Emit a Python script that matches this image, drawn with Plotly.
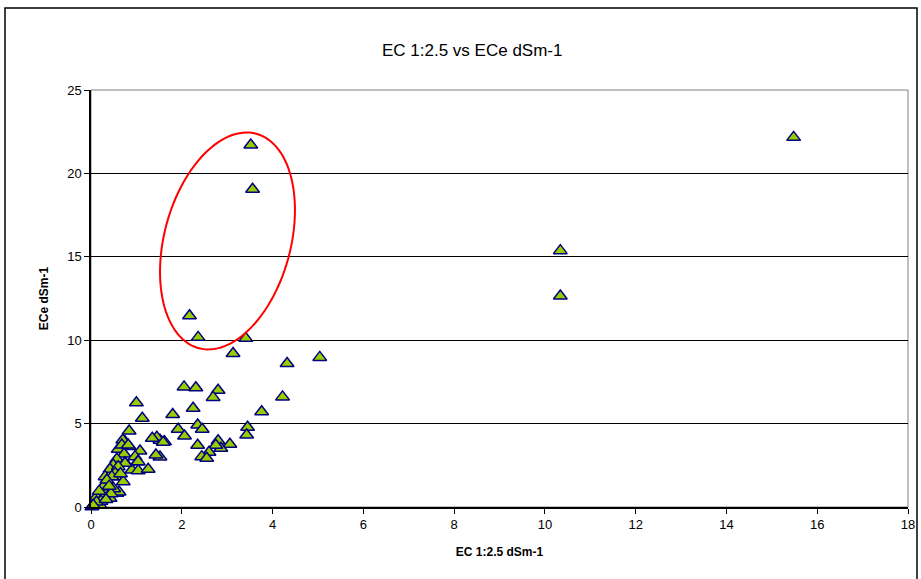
import numpy as np
import plotly.graph_objects as go

# EC 1:2.5 (dS/m) values
ec_125 = [
    15.48, 10.34, 10.34, 3.52, 3.56, 2.17, 2.36, 3.41, 5.04, 4.32, 3.13,
    4.22, 3.76, 2.05, 2.31, 2.80, 2.69, 2.25, 1.80, 2.35, 2.45, 1.92, 2.06,
    3.45, 3.43, 1.62, 1.52, 2.35, 2.80, 3.06, 2.86, 2.75, 2.60, 2.44, 2.55,
    1.52, 1.00, 1.13, 0.84, 1.45, 1.35, 1.59, 0.75, 0.70, 0.84, 0.60, 1.08,
    1.43, 0.73, 0.97, 0.57, 1.03, 0.75, 0.49, 0.90, 1.04, 1.26, 0.42, 0.53,
    0.71, 0.31, 0.35, 0.68, 0.82, 1.04, 0.75, 0.60, 0.53, 0.46, 0.38, 0.57,
    0.31, 0.24, 0.42, 0.16, 0.09, 0.02, 0.20, 0.125, 0.27, 0.35, 0.62, 0.50,
    0.44, 0.28, 0.22, 0.18, 0.12, 0.05, 0.65, 0.40, 0.33,
]
# ECe (dS/m) values
ece = [
    22.16, 15.37, 12.65, 21.70, 19.05, 11.47, 10.17, 10.11, 8.97, 8.60, 9.20,
    6.60, 5.71, 7.20, 7.15, 7.00, 6.57, 5.92, 5.55, 4.92, 4.66, 4.66, 4.26,
    4.78, 4.32, 3.92, 4.00, 3.70, 3.97, 3.76, 3.52, 3.70, 3.28, 3.02, 2.92,
    3.00, 6.25, 5.32, 4.56, 4.18, 4.12, 3.88, 3.92, 4.02, 3.62, 3.46, 3.36,
    3.12, 3.18, 3.02, 2.88, 2.72, 2.66, 2.52, 2.22, 2.18, 2.26, 2.26, 1.82,
    1.52, 1.82, 1.52, 3.72, 3.72, 2.72, 2.62, 2.42, 2.02, 1.82, 1.42, 0.82,
    1.02, 0.72, 0.52, 0.42, 0.22, 0.02, 0.12, 0.62, 1.22, 1.62, 0.90, 1.10,
    0.80, 0.60, 0.35, 0.95, 0.30, 0.10, 2.00, 1.25, 0.45,
]

x_ticks = [0, 2, 4, 6, 8, 10, 12, 14, 16, 18]
y_ticks = [0, 5, 10, 15, 20, 25]

fig = go.Figure()
fig.add_trace(go.Scatter(
    x=ec_125, y=ece, mode="markers",
    marker=dict(symbol="triangle-up", size=12, color="#99CC00",
                line=dict(color="#000080", width=1.5)),
    showlegend=False, cliponaxis=False,
))

# Red ellipse highlighting outliers (defined in pixel-like units then mapped to data)
px_per_x = 817 / 18.0
px_per_y = 417 / 25.0
cx, cy = 3.007, 15.95
a_px, b_px, theta = 111.0, 63.2, np.deg2rad(75)
t = np.linspace(0, 2 * np.pi, 120)
dx = a_px * np.cos(t) * np.cos(theta) - b_px * np.sin(t) * np.sin(theta)
dy = a_px * np.cos(t) * np.sin(theta) + b_px * np.sin(t) * np.cos(theta)
ex = cx + dx / px_per_x
ey = cy + dy / px_per_y
path = "M " + " L ".join(f"{xx:.4f},{yy:.4f}" for xx, yy in zip(ex, ey)) + " Z"
fig.add_shape(type="path", path=path, xref="x", yref="y",
              line=dict(color="#FF0000", width=2))

# plot area border (gray)
fig.add_shape(type="rect", xref="paper", yref="paper", x0=0, y0=0, x1=1, y1=1,
              line=dict(color="#808080", width=1), layer="below")
# outer chart border
fig.add_shape(type="rect", xref="paper", yref="paper",
              x0=(5 - 91) / 817, x1=(917 - 91) / 817,
              y0=(507 - 600) / 417, y1=(507 - 8) / 417,
              line=dict(color="#000000", width=1.5))

fig.add_annotation(text="EC 1:2.5 vs ECe dSm-1", xref="paper", yref="paper",
                   x=(472 - 91) / 817, y=(507 - 39) / 417, showarrow=False,
                   font=dict(family="Liberation Sans, Arial", size=17, color="#000"))

fig.update_layout(
    width=921, height=579,
    margin=dict(l=91, r=13, t=90, b=72, autoexpand=False),
    paper_bgcolor="white", plot_bgcolor="white",
    font=dict(family="Liberation Sans, Arial", size=13, color="#000"),
    xaxis=dict(range=[0, 18], tickvals=x_ticks, showgrid=False, zeroline=False,
               showline=True, linecolor="#000", linewidth=1.5, automargin=False,
               ticks="outside", ticklen=5, tickcolor="#000",
               title=dict(text="<b>EC 1:2.5 dSm-1</b>", font=dict(size=12), standoff=16)),
    yaxis=dict(range=[0, 25], tickvals=y_ticks, showgrid=True, gridcolor="#000000",
               gridwidth=1, zeroline=False, automargin=False,
               showline=True, linecolor="#000", linewidth=1.5,
               ticks="outside", ticklen=5, tickcolor="#000",
               title=dict(text="<b>ECe dSm-1</b>", font=dict(size=12), standoff=16)),
)

fig.write_html("out.html", config={"displayModeBar": False})

# remove default page margin so the figure sits at the window origin
with open("out.html", "r", encoding="utf-8") as f:
    html = f.read()
html = html.replace("<body>", '<body style="margin:0;padding:0;overflow:hidden">', 1)
with open("out.html", "w", encoding="utf-8") as f:
    f.write(html)
